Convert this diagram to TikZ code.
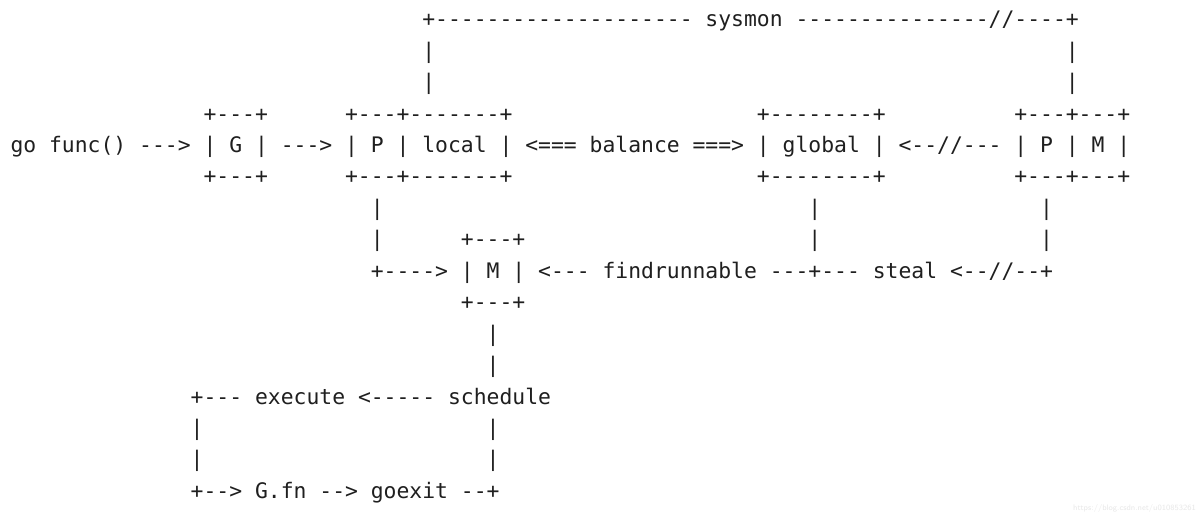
\documentclass[tikz,border=0pt]{standalone}
\usepackage{fontspec}
\setmonofont{DejaVu Sans Mono}
\frenchspacing
\tikzset{
  txt/.style={anchor=base west, inner sep=0pt, outer sep=0pt,
    font=\ttfamily\fontsize{21.38}{24}\selectfont, text=black!88},
  wmark/.style={anchor=base west, inner sep=0pt,
    font=\sffamily\fontsize{8}{8}\selectfont, text=black!9}
}
% \asc{row}{column}{name}{text}
\newcommand{\asc}[4]{\node[txt] (#3) at ({10.5+12.87*#2},{26.8+31.44*#1}) {#4};}
\begin{document}
\begin{tikzpicture}[x=1pt,y=-1pt]
\fill[white] (0,0) rectangle (1200,518);
\useasboundingbox (0,0) rectangle (1200,518);
% row 0 : sysmon
\asc{0}{32}{sysmon}{+-------------------- sysmon ---------------//----+}
\asc{1}{32}{sysL1}{|}
\asc{1}{82}{sysR1}{|}
\asc{2}{32}{sysL2}{|}
\asc{2}{82}{sysR2}{|}
% row 3 : box tops
\asc{3}{15}{gTop}{+---+}
\asc{3}{26}{pTop}{+---+-------+}
\asc{3}{58}{globTop}{+--------+}
\asc{3}{78}{pmTop}{+---+---+}
% row 4 : main line
\asc{4}{0}{gofunc}{go func()}
\asc{4}{10}{arrA}{--->}
\asc{4}{15}{G}{| G |}
\asc{4}{21}{arrB}{--->}
\asc{4}{26}{Plocal}{| P | local |}
\asc{4}{40}{balance}{<=== balance ===>}
\asc{4}{58}{global}{| global |}
\asc{4}{69}{arrC}{<--//---}
\asc{4}{78}{PM}{| P | M |}
% row 5 : box bottoms
\asc{5}{15}{gBot}{+---+}
\asc{5}{26}{pBot}{+---+-------+}
\asc{5}{58}{globBot}{+--------+}
\asc{5}{78}{pmBot}{+---+---+}
% rows 6-7
\asc{6}{28}{vP1}{|}
\asc{6}{62}{vGl1}{|}
\asc{6}{80}{vPM1}{|}
\asc{7}{28}{vP2}{|}
\asc{7}{35}{mTop}{+---+}
\asc{7}{62}{vGl2}{|}
\asc{7}{80}{vPM2}{|}
% row 8 : M line
\asc{8}{28}{arrM}{+---->}
\asc{8}{35}{M}{| M |}
\asc{8}{41}{findrun}{<--- findrunnable ---+--- steal <--//--+}
% row 9
\asc{9}{35}{mBot}{+---+}
\asc{10}{37}{vM1}{|}
\asc{11}{37}{vM2}{|}
% row 12
\asc{12}{14}{execute}{+--- execute <----- schedule}
\asc{13}{14}{vE1}{|}
\asc{13}{37}{vS1}{|}
\asc{14}{14}{vE2}{|}
\asc{14}{37}{vS2}{|}
\asc{15}{14}{gfn}{+--> G.fn --> goexit --+}
% watermark
\node[wmark] (wm) at (1073,511) {https://blog.csdn.net/u010853261};
\end{tikzpicture}
\end{document}
